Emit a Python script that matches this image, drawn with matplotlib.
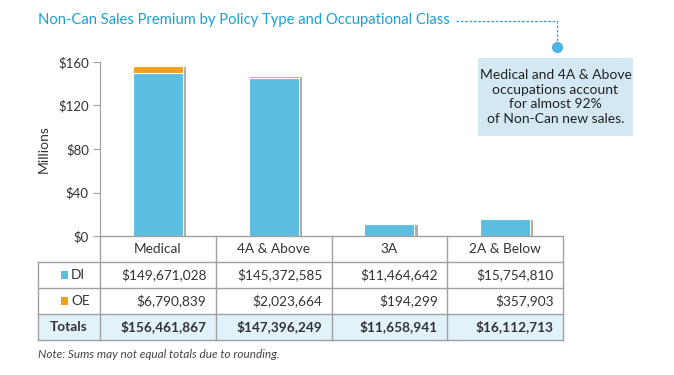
import matplotlib.pyplot as plt
import matplotlib.patheffects as pe
from matplotlib.patches import Rectangle

plt.rcParams['font.family'] = ['Lato', 'DejaVu Sans']

categories = ["Medical", "4A & Above", "3A", "2A & Below"]
di = [149671028, 145372585, 11464642, 15754810]
oe = [6790839, 2023664, 194299, 357903]
totals = [156461867, 147396249, 11658941, 16112713]
series = ["DI", "OE"]
yticks = [0, 40, 80, 120, 160]

blue = "#5bbde0"
orange = "#f5a01a"
teal = "#1a9fd6"
grid = "#a0a0a0"
W, H = 674, 375

fig = plt.figure(figsize=(W / 100, H / 100), dpi=100)

def fx(px):
    return px / W

def fy(py):
    return 1 - py / H

# bar chart axes: x 100..563, y 62..236 (pixels)
ax = fig.add_axes([fx(100), fy(236), fx(563) - fx(100), fy(62) - fy(236)])
x = [i + 0.5 for i in range(len(categories))]
di_m = [v / 1e6 for v in di]
oe_m = [v / 1e6 for v in oe]
shadow = [pe.SimplePatchShadow(offset=(2.5, -1.0), shadow_rgbFace="#777777", alpha=0.6), pe.Normal()]
b1 = ax.bar(x, di_m, width=0.43, color=blue, edgecolor="white", linewidth=0.8, zorder=3)
b2 = ax.bar(x, oe_m, bottom=di_m, width=0.43, color=orange, edgecolor="white", linewidth=0.8, zorder=3)
for bd, bo in zip(b1, b2):
    # shadow around the whole stack
    h = bd.get_height() + bo.get_height()
    r = Rectangle((bd.get_x(), 0), bd.get_width(), h, facecolor="white", edgecolor="none", zorder=2)
    r.set_path_effects(shadow)
    ax.add_patch(r)

ax.set_xlim(0, 4)
ax.set_ylim(0, 160)
ax.set_yticks(yticks)
ax.set_yticklabels(["$%d" % t for t in yticks], fontsize=9.5, color="#333333")
ax.set_xticks([])
for s in ["top", "right", "bottom"]:
    ax.spines[s].set_visible(False)
ax.spines["left"].set_color(grid)
ax.tick_params(axis="y", length=5, color=grid, pad=3)
ax.set_ylabel("Millions", fontsize=10, color="#333333", labelpad=6)
ax.patch.set_alpha(0)

# table axes: x -0.536..4 maps to 38..563 px, y 0..4 rows maps to 340..236 px
tax = fig.add_axes([fx(38), fy(340), fx(563) - fx(38), fy(236) - fy(340)])
tax.set_xlim(-0.536, 4)
tax.set_ylim(0, 4)
tax.axis("off")

# totals row background
tax.add_patch(Rectangle((-0.536, 0), 4.536, 1, facecolor="#e1f2f9", edgecolor="none", zorder=1))
lw = 1.0
# horizontal lines
tax.plot([0, 4], [4, 4], color=grid, lw=lw, zorder=2, clip_on=False)
for yy in [0, 1, 2, 3]:
    tax.plot([-0.536, 4], [yy, yy], color=grid, lw=lw, zorder=2, clip_on=False)
# vertical lines
tax.plot([-0.536, -0.536], [0, 3], color=grid, lw=lw, zorder=2, clip_on=False)
for xx in range(5):
    tax.plot([xx, xx], [0, 4], color=grid, lw=lw, zorder=2, clip_on=False)

fs = 9.8
for i, c in enumerate(categories):
    tax.text(i + 0.5, 3.5, c, ha="center", va="center", fontsize=fs, color="#333333")
    tax.text(i + 0.92, 2.5, "${:,}".format(di[i]), ha="right", va="center", fontsize=fs, color="#333333")
    tax.text(i + 0.92, 1.5, "${:,}".format(oe[i]), ha="right", va="center", fontsize=fs, color="#333333")
    tax.text(i + 0.92, 0.5, "${:,}".format(totals[i]), ha="right", va="center", fontsize=fs,
             color="#333333", fontweight="bold")

for row, name, col in [(2.5, series[0], blue), (1.5, series[1], orange)]:
    tax.add_patch(Rectangle((-0.34, row - 0.14), 0.06, 0.28, facecolor=col, edgecolor="none", zorder=3))
    tax.text(-0.25, row, name, ha="left", va="center", fontsize=fs, color="#333333")
tax.text(-0.268, 0.5, "Totals", ha="center", va="center", fontsize=fs, color="#333333", fontweight="bold")

# title and callout
fig.text(fx(38), fy(20), "Non-Can Sales Premium by Policy Type and Occupational Class",
         ha="left", va="center", fontsize=10.6, color=teal)
fig.add_artist(plt.Line2D([fx(456), fx(557), fx(557)], [fy(21), fy(21), fy(45)],
                          color=teal, lw=0.9, ls=(0, (2, 1.5))))
fig.add_artist(plt.Line2D([fx(557)], [fy(47)], marker="o", markersize=7,
                          color="#4db3e0", lw=0))
fig.add_artist(Rectangle((fx(478), fy(136)), fx(633) - fx(478), fy(58) - fy(136),
                         facecolor="#d3e8f3", edgecolor="none", transform=fig.transFigure))
fig.text(fx(555.5), fy(97), "Medical and 4A & Above\noccupations account\nfor almost 92%\nof Non-Can new sales.",
         ha="center", va="center", fontsize=10, color="#222222", linespacing=1.25)

fig.text(fx(38), fy(354), "Note: Sums may not equal totals due to rounding.", ha="left", va="center",
         fontsize=8.5, style="italic", color="#444444")

fig.savefig("out.png", dpi=100)
